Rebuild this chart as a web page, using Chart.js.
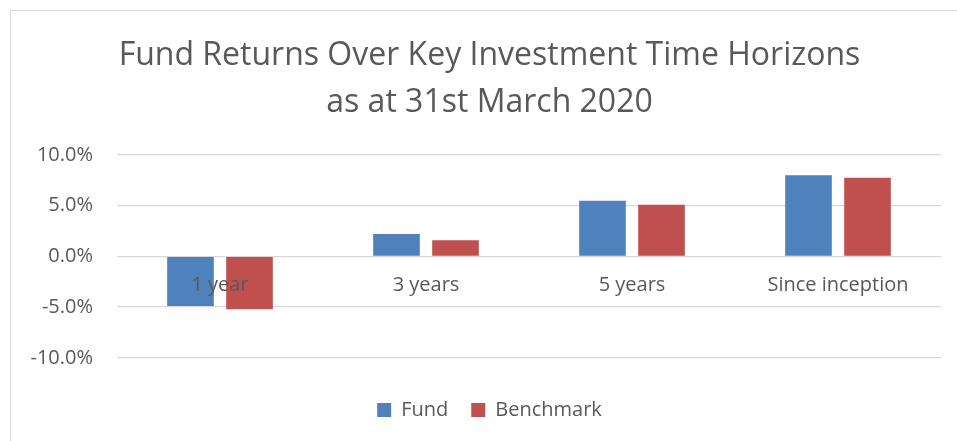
<!DOCTYPE html>
<html>
<head>
<meta charset="utf-8">
<script src="https://cdn.jsdelivr.net/npm/chart.js@4.4.1/dist/chart.umd.min.js"></script>
<style>
  html, body { margin: 0; padding: 0; background: #fff; overflow: hidden; }
  #frame {
    position: absolute; left: 10px; top: 10px;
    width: 980px; height: 460px;
    border: 1px solid #d9d9d9;
  }
  #chart { display: block; }
</style>
</head>
<body>
<div id="frame">
  <canvas id="chart" width="957" height="430"></canvas>
</div>
<script>
// categorias e valores (em %)
const periodos = ['1 year', '3 years', '5 years', 'Since inception'];
const fundo = [-4.9, 2.2, 5.5, 8.0];
const benchmark = [-5.2, 1.6, 5.1, 7.75];
const titulo = ['Fund Returns Over Key Investment Time Horizons', 'as at 31st March 2020'];

const cinza = '#595959';
const fonte = "'Open Sans', 'Liberation Sans', sans-serif";

const ctx = document.getElementById('chart').getContext('2d');
new Chart(ctx, {
  type: 'bar',
  data: {
    labels: periodos,
    datasets: [
      { label: 'Fund', data: fundo, backgroundColor: '#4f81bd',
        categoryPercentage: 0.573, barPercentage: 0.79 },
      { label: 'Benchmark', data: benchmark, backgroundColor: '#c0504d',
        categoryPercentage: 0.573, barPercentage: 0.79 }
    ]
  },
  options: {
    responsive: false,
    animation: false,
    layout: { padding: { left: 0, right: 0, top: 0, bottom: 11 } },
    plugins: {
      title: {
        display: true,
        text: titulo,
        color: cinza,
        font: { family: fonte, size: 32, weight: 'normal', lineHeight: 47 / 32 },
        padding: { top: 21, bottom: 29 }
      },
      legend: {
        position: 'bottom',
        title: { display: true, text: ' ', font: { size: 16 }, padding: 0 },
        labels: {
          color: cinza,
          boxWidth: 14, boxHeight: 14,
          padding: 23,
          font: { family: fonte, size: 20 }
        }
      },
      tooltip: { enabled: false }
    },
    scales: {
      x: {
        position: { y: 0 },  // rótulos junto à linha do zero
        grid: { display: false, drawTicks: false },
        border: { display: false },
        ticks: { z: 1, color: cinza, padding: 17, font: { family: fonte, size: 20 } }
      },
      y: {
        min: -10, max: 10,
        afterFit: function(s) { s.width = 106; },
        grid: { color: '#d9d9d9', lineWidth: 1.3, drawTicks: false },
        border: { display: false },
        ticks: {
          stepSize: 5,
          padding: 24,
          color: cinza,
          font: { family: fonte, size: 20 },
          callback: v => v.toFixed(1) + '%'
        }
      },
      // eixo vazio só para dar a margem da direita sem descentrar o título
      margemDireita: {
        type: 'linear',
        position: 'right',
        afterFit: function(s) { s.width = 27; },
        grid: { display: false },
        border: { display: false },
        ticks: { display: false }
      }
    }
  }
});
</script>
</body>
</html>
